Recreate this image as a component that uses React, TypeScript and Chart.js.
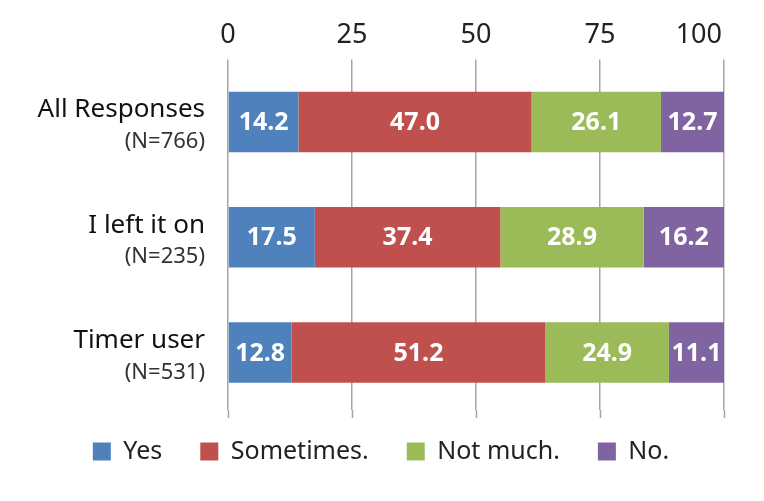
import React, { useEffect, useRef } from "react";
import { Chart, registerables } from "chart.js";

Chart.register(...registerables);

const categories = ["All Responses", "I left it on", "Timer user"];
const sampleSizes = ["(N=766)", "(N=235)", "(N=531)"];
const seriesNames = ["Yes", "Sometimes.", "Not much.", "No."];
const yesValues = [14.2, 17.5, 12.8];
const sometimesValues = [47.0, 37.4, 51.2];
const notMuchValues = [26.1, 28.9, 24.9];
const noValues = [12.7, 16.2, 11.1];
const xTickMin = 0;
const xTickMax = 100;
const xTickStep = 25;

const colors = ["#4F81BD", "#C0504D", "#9BBB59", "#8064A2"];
const FONT = "'Noto Sans', 'DejaVu Sans', sans-serif";

const yLabelPlugin = {
  id: "yLabels",
  afterDraw(chart: any) {
    const ctx = chart.ctx;
    const y = chart.scales.y;
    const xRight = chart.chartArea.left - 23;
    ctx.save();
    ctx.textAlign = "right";
    ctx.textBaseline = "middle";
    categories.forEach((cat, i) => {
      const py = y.getPixelForValue(i);
      ctx.fillStyle = "#111";
      ctx.font = `26px ${FONT}`;
      ctx.fillText(cat, xRight, py - 12);
      ctx.fillStyle = "#333";
      ctx.font = `22px ${FONT}`;
      ctx.fillText(sampleSizes[i], xRight, py + 20);
    });
    ctx.restore();
  },
};

const xLabelPlugin = {
  id: "xLabels",
  afterDraw(chart: any) {
    const ctx = chart.ctx;
    const x = chart.scales.x;
    const baseline = chart.chartArea.top - 21;
    ctx.save();
    ctx.fillStyle = "#222";
    ctx.font = `27px ${FONT}`;
    ctx.textBaseline = "alphabetic";
    const n = x.ticks.length;
    x.ticks.forEach((t: any, i: number) => {
      const px = x.getPixelForValue(t.value);
      const label = String(t.label);
      if (i === n - 1) {
        ctx.textAlign = "right";
        ctx.fillText(label, px - 2, baseline);
      } else {
        ctx.textAlign = "center";
        ctx.fillText(label, px, baseline);
      }
    });
    ctx.restore();
  },
};

const valueLabelPlugin = {
  id: "valueLabels",
  afterDatasetsDraw(chart: any) {
    const ctx = chart.ctx;
    ctx.save();
    ctx.textAlign = "center";
    ctx.textBaseline = "middle";
    ctx.fillStyle = "#fff";
    ctx.font = `bold 25px ${FONT}`;
    chart.data.datasets.forEach((ds: any, di: number) => {
      const meta = chart.getDatasetMeta(di);
      meta.data.forEach((el: any, i: number) => {
        const c = el.getCenterPoint();
        ctx.fillText(Number(ds.data[i]).toFixed(1), c.x, c.y + 1);
      });
    });
    ctx.restore();
  },
};

const gridExtendPlugin = {
  id: "gridExtend",
  afterDraw(chart: any) {
    const ctx = chart.ctx;
    const x = chart.scales.x;
    const bottom = chart.chartArea.bottom;
    ctx.save();
    ctx.strokeStyle = "#A6A6A6";
    ctx.lineWidth = 1.5;
    x.ticks.forEach((t: any) => {
      const px = Math.round(x.getPixelForValue(t.value)) + 0.5;
      ctx.beginPath();
      ctx.moveTo(px, bottom);
      ctx.lineTo(px, bottom + 8);
      ctx.stroke();
    });
    ctx.restore();
  },
};

export default function App() {
  const canvasRef = useRef<HTMLCanvasElement | null>(null);

  useEffect(() => {
    if (!canvasRef.current) return;
    const seriesValues = [yesValues, sometimesValues, notMuchValues, noValues];
    const chart = new Chart(canvasRef.current, {
      type: "bar",
      data: {
        labels: categories,
        datasets: seriesNames.map((name, i) => ({
          label: name,
          data: seriesValues[i],
          backgroundColor: colors[i],
          borderWidth: 0,
          categoryPercentage: 1,
          barPercentage: 0.525,
        })),
      },
      options: {
        indexAxis: "y",
        animation: false,
        responsive: true,
        maintainAspectRatio: false,
        layout: { padding: { top: 3, left: 30, right: 32, bottom: 19 } },
        scales: {
          x: {
            position: "top",
            stacked: true,
            min: xTickMin,
            max: xTickMax,
            ticks: {
              stepSize: xTickStep,
              padding: 8,
              color: "rgba(0,0,0,0)",
              font: { family: FONT, size: 27 },
            },
            grid: {
              color: "#A6A6A6",
              lineWidth: 1.5,
              tickLength: 5,
              drawTicks: true,
            },
            border: { display: false },
          },
          y: {
            stacked: true,
            ticks: { display: false },
            grid: { display: false },
            border: { display: false },
            afterFit(scale: any) {
              scale.width = 190;
            },
          },
        },
        plugins: {
          tooltip: { enabled: false },
          legend: {
            position: "bottom",
            title: {
              display: true,
              text: "",
              font: { size: 10 },
              padding: { top: -21, bottom: 0 },
            },
            labels: {
              boxWidth: 18,
              boxHeight: 18,
              padding: 38,
              color: "#222",
              font: { family: FONT, size: 25 },
            },
          },
        },
      },
      plugins: [yLabelPlugin, xLabelPlugin, valueLabelPlugin, gridExtendPlugin],
    });
    return () => chart.destroy();
  }, []);

  return (
    <div style={{ position: "relative", height: 485 }}>
      <canvas ref={canvasRef} />
    </div>
  );
}
